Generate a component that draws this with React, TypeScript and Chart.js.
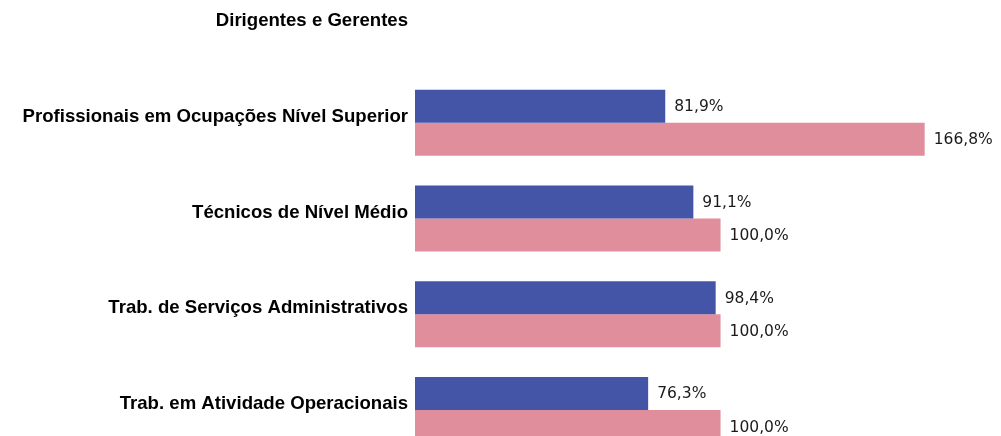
import React, { useEffect, useRef } from "react";
import { Chart, registerables } from "chart.js";

Chart.register(...registerables);

const categories = [
  "Dirigentes e Gerentes",
  "Profissionais em Ocupações Nível Superior",
  "Técnicos de Nível Médio",
  "Trab. de Serviços Administrativos",
  "Trab. em Atividade Operacionais",
];
const seriesBlue: (number | null)[] = [null, 81.9, 91.1, 98.4, 76.3];
const seriesPink: (number | null)[] = [null, 166.8, 100.0, 100.0, 100.0];

const fmt = (v: number) => v.toFixed(1).replace(".", ",") + "%";

const valueLabels = {
  id: "valueLabels",
  afterDatasetsDraw(chart: any) {
    const ctx = chart.ctx;
    ctx.save();
    ctx.font = "15.5px 'DejaVu Sans'";
    ctx.fillStyle = "#1a1a1a";
    ctx.textAlign = "left";
    ctx.textBaseline = "middle";
    chart.data.datasets.forEach((ds: any, di: number) => {
      const meta = chart.getDatasetMeta(di);
      meta.data.forEach((bar: any, i: number) => {
        const v = ds.data[i];
        if (v == null) return;
        ctx.fillText(fmt(v), bar.x + 9, bar.y + 1);
      });
    });
    ctx.restore();
  },
};

export default function App() {
  const ref = useRef<HTMLCanvasElement>(null);
  useEffect(() => {
    document.body.style.margin = "0";
    const chart = new Chart(ref.current!, {
      type: "bar",
      data: {
        labels: categories,
        datasets: [
          { data: seriesBlue, backgroundColor: "#4455A8", categoryPercentage: 0.69, barPercentage: 1 },
          { data: seriesPink, backgroundColor: "#E08E9B", categoryPercentage: 0.69, barPercentage: 1 },
        ],
      },
      options: {
        indexAxis: "y",
        responsive: false,
        animation: false,
        layout: { padding: { left: 0, right: 36, top: 0, bottom: 0 } },
        plugins: { legend: { display: false }, title: { display: false }, tooltip: { enabled: false } },
        scales: {
          x: { display: false, min: 0, max: 180 },
          y: {
            afterFit: (scale: any) => {
              scale.width = 415;
            },
            grid: { display: false, drawTicks: false },
            border: { display: false },
            ticks: {
              color: "#000",
              padding: 7,
              labelOffset: -6,
              font: { family: "'Liberation Sans', Arial", size: 18.6, weight: "bold" },
            },
          },
        },
      },
      plugins: [valueLabels],
    });
    return () => chart.destroy();
  }, []);
  return (
    <div style={{ position: "relative", width: 1001, height: 436, overflow: "hidden", background: "#fff" }}>
      <canvas ref={ref} width={1001} height={515} style={{ position: "absolute", left: 0, top: -39 }} />
    </div>
  );
}
